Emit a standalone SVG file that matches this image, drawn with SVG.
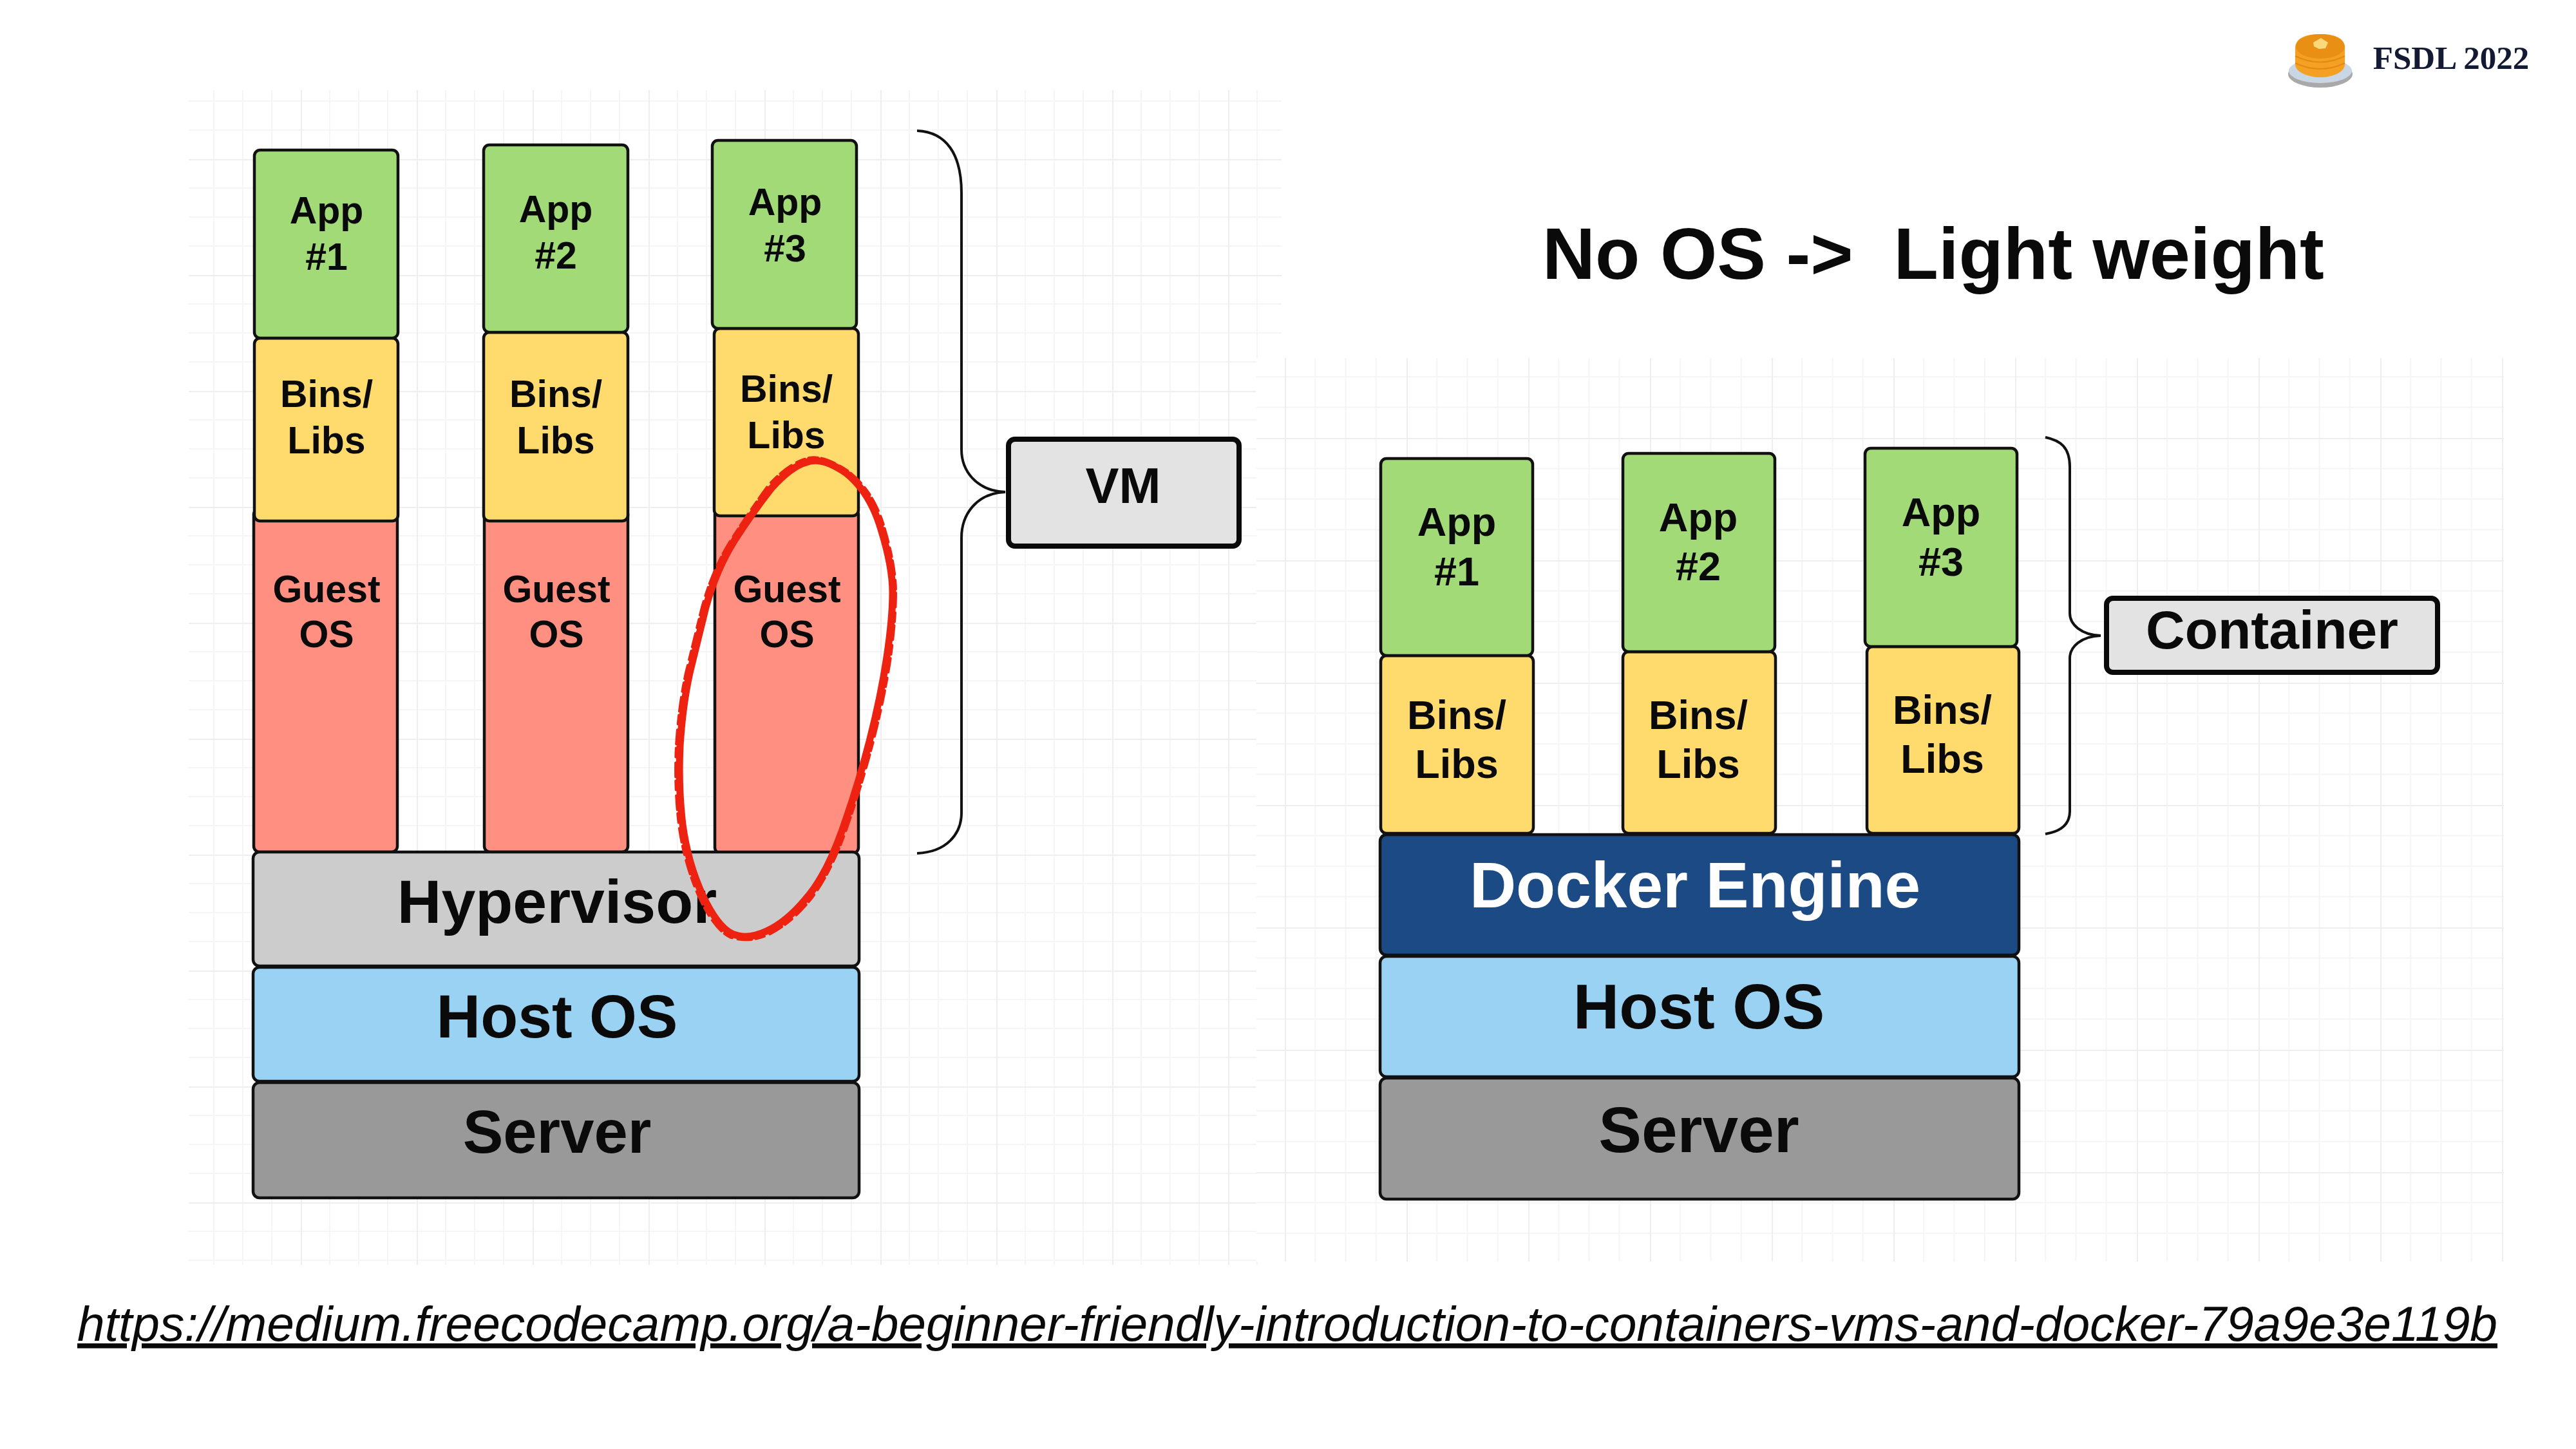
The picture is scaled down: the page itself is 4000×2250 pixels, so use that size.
<svg xmlns="http://www.w3.org/2000/svg" width="4000" height="2250" viewBox="0 0 4000 2250">
<style>
text{font-family:"Liberation Sans",Arial,sans-serif;font-weight:700;text-anchor:middle;fill:#0a0a0a}
.b{stroke:#111;stroke-width:4.5}
.app{fill:#a2da77}.bin{fill:#ffdb6e}.gue{fill:#ff8f80}.hyp{fill:#cccccc}.hos{fill:#99d2f2}.srv{fill:#999999}.doc{fill:#1b4a85}
.lab{fill:#e3e3e3;stroke:#0a0a0a;stroke-width:8}
.s{font-size:59px}.m{font-size:63px}
.brace{fill:none;stroke:#111;stroke-width:4}
.red{fill:none;stroke:#ee2211;stroke-linecap:round}
</style>
<defs>
<pattern id="gl" patternUnits="userSpaceOnUse" x="287" y="67" width="180" height="180">
<path d="M45 0V180M90 0V180M135 0V180M0 45H180M0 90H180M0 135H180" stroke="#f5f5f5" stroke-width="2" fill="none"/>
<path d="M0 0V180M0 0H180" stroke="#eeeeee" stroke-width="4" fill="none"/>
</pattern>
<pattern id="gr" patternUnits="userSpaceOnUse" x="1995" y="110" width="189" height="190">
<path d="M47.2 0V190M94.5 0V190M141.7 0V190M0 47.5H189M0 95H189M0 142.5H189" stroke="#f5f5f5" stroke-width="2" fill="none"/>
<path d="M0 0V190M0 0H189" stroke="#eeeeee" stroke-width="4" fill="none"/>
</pattern>
</defs>
<rect width="4000" height="2250" fill="#ffffff"/>
<rect x="293" y="140" width="1697" height="1824" fill="url(#gl)"/>
<rect x="1951" y="556" width="1937" height="1403" fill="#ffffff"/>
<rect x="1951" y="556" width="1937" height="1403" fill="url(#gr)"/>

<g id="logo">
<ellipse cx="3603" cy="115" rx="50" ry="21" fill="#a9a9a9"/>
<ellipse cx="3603" cy="110" rx="49" ry="19" fill="#c9d6e4"/>
<path d="M3564 75C3564 58 3582 53 3603 53C3624 53 3641 58 3641 75V100C3641 112 3622 120 3603 120C3584 120 3564 112 3564 100Z" fill="#f4a023"/>
<path d="M3564 87Q3603 106 3641 87M3564 98Q3603 116 3641 98" stroke="#e38a12" stroke-width="2" fill="none"/>
<ellipse cx="3603" cy="72" rx="38" ry="19" fill="#e98f14"/>
<path d="M3592 66L3604 59L3615 66L3611 75L3601 76L3593 72Z" fill="#fbd87a"/>
<text x="3806" y="107" style="font-family:'Liberation Serif',serif;font-size:51px;fill:#141a33">FSDL 2022</text>
</g>

<g id="connectors">
<path class="brace" d="M1424 203C1470 205 1493 240 1493 300V698C1493 730 1515 762 1561 764C1515 766 1493 800 1493 835V1262C1493 1295 1470 1323 1424 1325"/>
<path class="brace" d="M3176 679C3200 684 3214 695 3214 725V952C3214 970 3232 986 3262 987C3232 988 3214 1004 3214 1022V1260C3214 1280 3200 1291 3176 1295"/>
</g>

<g id="vm-stack">
<g id="vm-guest1"><rect class="b gue" x="394" y="790" width="223" height="533" rx="9"/><text class="s" x="507" y="935">Guest</text><text class="s" x="507" y="1005">OS</text></g>
<g id="vm-guest2"><rect class="b gue" x="752" y="790" width="223" height="533" rx="9"/><text class="s" x="864" y="935">Guest</text><text class="s" x="864" y="1005">OS</text></g>
<g id="vm-guest3"><rect class="b gue" x="1110" y="790" width="223" height="535" rx="9"/><text class="s" x="1222" y="935">Guest</text><text class="s" x="1222" y="1005">OS</text></g>
<g id="vm-bins1"><rect class="b bin" x="395" y="525" width="223" height="284" rx="9"/><text class="s" x="507" y="632">Bins/</text><text class="s" x="507" y="704">Libs</text></g>
<g id="vm-bins2"><rect class="b bin" x="751" y="516" width="224" height="293" rx="9"/><text class="s" x="863" y="632">Bins/</text><text class="s" x="863" y="704">Libs</text></g>
<g id="vm-bins3"><rect class="b bin" x="1109" y="510" width="224" height="291" rx="9"/><text class="s" x="1221" y="624">Bins/</text><text class="s" x="1221" y="696">Libs</text></g>
<g id="vm-app1"><rect class="b app" x="395" y="233" width="223" height="292" rx="9"/><text class="s" x="507" y="347">App</text><text class="s" x="507" y="419">#1</text></g>
<g id="vm-app2"><rect class="b app" x="751" y="225" width="224" height="291" rx="9"/><text class="s" x="863" y="345">App</text><text class="s" x="863" y="417">#2</text></g>
<g id="vm-app3"><rect class="b app" x="1106" y="218" width="224" height="292" rx="9"/><text class="s" x="1219" y="334">App</text><text class="s" x="1219" y="406">#3</text></g>
<g id="vm-hypervisor"><rect class="b hyp" x="393" y="1323" width="941" height="177" rx="10"/><text x="865" y="1433" font-size="95">Hypervisor</text></g>
<g id="vm-host"><rect class="b hos" x="393" y="1502" width="941" height="177" rx="10"/><text x="865" y="1611" font-size="95">Host OS</text></g>
<g id="vm-server"><rect class="b srv" x="393" y="1681" width="941" height="179" rx="10"/><text x="865" y="1790" font-size="94">Server</text></g>
</g>

<g id="vm-label"><rect class="lab" x="1566" y="682" width="358" height="166" rx="10"/><text x="1744" y="781" font-size="78">VM</text></g>

<g id="container-stack">
<g id="c-bins1"><rect class="b bin" x="2144" y="1018" width="237" height="276" rx="9"/><text class="m" x="2262" y="1132">Bins/</text><text class="m" x="2262" y="1208">Libs</text></g>
<g id="c-bins2"><rect class="b bin" x="2520" y="1012" width="237" height="282" rx="9"/><text class="m" x="2637" y="1132">Bins/</text><text class="m" x="2637" y="1208">Libs</text></g>
<g id="c-bins3"><rect class="b bin" x="2899" y="1004" width="236" height="290" rx="9"/><text class="m" x="3016" y="1124">Bins/</text><text class="m" x="3016" y="1200">Libs</text></g>
<g id="c-app1"><rect class="b app" x="2144" y="712" width="236" height="306" rx="9"/><text class="m" x="2262" y="832">App</text><text class="m" x="2262" y="909">#1</text></g>
<g id="c-app2"><rect class="b app" x="2520" y="704" width="236" height="308" rx="9"/><text class="m" x="2637" y="825">App</text><text class="m" x="2637" y="901">#2</text></g>
<g id="c-app3"><rect class="b app" x="2896" y="696" width="236" height="308" rx="9"/><text class="m" x="3014" y="817">App</text><text class="m" x="3014" y="894">#3</text></g>
<g id="c-docker"><rect class="b doc" x="2143" y="1296" width="992" height="187" rx="10"/><text x="2632" y="1409" font-size="100" style="fill:#ffffff">Docker Engine</text></g>
<g id="c-host"><rect class="b hos" x="2143" y="1485" width="992" height="187" rx="10"/><text x="2638" y="1597" font-size="99">Host OS</text></g>
<g id="c-server"><rect class="b srv" x="2143" y="1674" width="992" height="188" rx="10"/><text x="2638" y="1789" font-size="100">Server</text></g>
</g>

<g id="container-label"><rect class="lab" x="3271" y="929" width="514" height="115" rx="10"/><text x="3528" y="1007" font-size="84">Container</text></g>

<text x="3002" y="433" font-size="113.5" xml:space="preserve" style="white-space:pre">No OS -&gt;  Light weight</text>

<text x="1999" y="2082" font-size="76" textLength="3758" lengthAdjust="spacingAndGlyphs" style="font-weight:400;font-style:italic;text-decoration:underline">https://medium.freecodecamp.org/a-beginner-friendly-introduction-to-containers-vms-and-docker-79a9e3e119b</text>

<g id="red-circle">
<path class="red" stroke-width="11" d="M1252 718Q1275 708 1313 734Q1351 764 1368 822Q1386 880 1386 920Q1386 960 1377 1020Q1368 1081 1350 1151Q1332 1221 1307 1291Q1282 1361 1251 1396Q1221 1432 1190 1446Q1160 1460 1137 1450Q1114 1439 1091 1390Q1068 1340 1060 1280Q1053 1221 1056 1158Q1060 1095 1071 1045Q1083 996 1096 943Q1112 885 1140 840Q1169 795 1198 758Q1229 724 1252 718Z"/>
<path class="red" stroke-width="4" stroke-dasharray="14 6 22 9" d="M1256 711Q1280 706 1319 733Q1358 764 1374 822Q1391 880 1391 920Q1391 960 1383 1020Q1374 1081 1356 1151Q1338 1221 1313 1291Q1288 1361 1256 1400Q1226 1436 1192 1452Q1160 1465 1133 1455Q1108 1442 1085 1392Q1062 1340 1054 1280Q1047 1221 1050 1158Q1054 1095 1065 1045Q1077 996 1090 943Q1106 885 1134 840Q1163 795 1192 755Q1225 718 1256 711Z"/>
</g>
</svg>
